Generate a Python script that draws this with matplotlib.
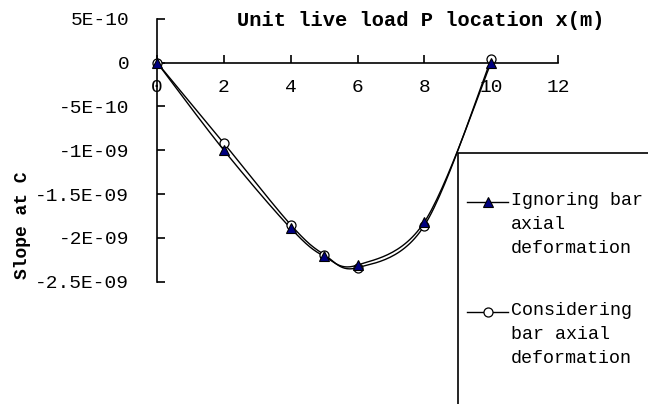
import numpy as np
import matplotlib
matplotlib.use("Agg")
import matplotlib.pyplot as plt
from matplotlib.lines import Line2D
from matplotlib.patches import Rectangle

# load position x (m) and slope at C for the two models
x_pos = [0, 2, 4, 5, 6, 8, 10]
slope_ignoring = [0, -1.00e-9, -1.89e-9, -2.21e-9, -2.31e-9, -1.82e-9, 0]
slope_considering = [0, -0.92e-9, -1.85e-9, -2.19e-9, -2.34e-9, -1.86e-9, 0.04e-9]

x_ticks = [0, 2, 4, 6, 8, 10, 12]
y_ticks = [5e-10, 0, -5e-10, -1e-9, -1.5e-9, -2e-9, -2.5e-9]
y_tick_labels = ["5E-10", "0", "-5E-10", "-1E-09", "-1.5E-09", "-2E-09", "-2.5E-09"]

legend_labels = ["Ignoring bar\naxial\ndeformation",
                 "Considering\nbar axial\ndeformation"]

MONO = "Liberation Mono"


def smooth(xs, ys, n=30):
    # cubic bezier through the points, excel-style smoothed line
    xs = np.asarray(xs, float)
    ys = np.asarray(ys, float)
    px = np.concatenate([[xs[0]], xs, [xs[-1]]])
    py = np.concatenate([[ys[0]], ys, [ys[-1]]])
    out_x, out_y = [], []
    t = np.linspace(0, 1, n)
    for i in range(1, len(px) - 2):
        p0 = np.array([px[i], py[i]])
        p3 = np.array([px[i + 1], py[i + 1]])
        c1 = p0 + (np.array([px[i + 1], py[i + 1]]) - np.array([px[i - 1], py[i - 1]])) / 6
        c2 = p3 - (np.array([px[i + 2], py[i + 2]]) - np.array([px[i], py[i]])) / 6
        b = ((1 - t) ** 3)[:, None] * p0 + (3 * (1 - t) ** 2 * t)[:, None] * c1 \
            + (3 * (1 - t) * t ** 2)[:, None] * c2 + (t ** 3)[:, None] * p3
        out_x.extend(b[:, 0])
        out_y.extend(b[:, 1])
    return out_x, out_y


W, H = 648, 404
fig = plt.figure(figsize=(W / 100, H / 100), dpi=100)
ax = fig.add_axes([157 / W, 1 - 281.7 / H, (558 - 157) / W, (281.7 - 18.7) / H])

tri = dict(marker="^", ms=7.5, mfc="#000080", mec="black", mew=0.8)
circ = dict(marker="o", ms=6.5, mfc="white", mec="black", mew=0.9)

sx, sy = smooth(x_pos, slope_considering)
ax.plot(sx, sy, color="black", lw=1.0, clip_on=False)
ax.plot(x_pos, slope_considering, ls="none", clip_on=False, zorder=3, **circ)

sx, sy = smooth(x_pos, slope_ignoring)
ax.plot(sx, sy, color="black", lw=1.0, clip_on=False)
ax.plot(x_pos, slope_ignoring, ls="none", clip_on=False, zorder=4, **tri)

ax.set_xlim(0, 12)
ax.set_ylim(-2.5e-9, 5e-10)
ax.spines["top"].set_visible(False)
ax.spines["right"].set_visible(False)
ax.spines["bottom"].set_position(("data", 0))
ax.spines["left"].set_linewidth(1.2)
ax.spines["bottom"].set_linewidth(1.2)

ax.set_xticks(x_ticks)
ax.set_xticklabels([str(v) for v in x_ticks])
ax.set_yticks(y_ticks)
ax.set_yticklabels(y_tick_labels)
ax.tick_params(axis="x", direction="in", length=6, width=1.2, pad=12,
               labelsize=14)
ax.tick_params(axis="y", direction="in", length=6, width=1.2, pad=20,
               labelsize=14)
for lab in ax.get_xticklabels() + ax.get_yticklabels():
    lab.set_family(MONO)

fig.text(421 / W, 1 - 20 / H, "Unit live load P location x(m)", ha="center",
         va="center", family=MONO, weight="bold", fontsize=14.7)
fig.text(23 / W, 1 - 225 / H, "Slope at C", ha="center", va="center",
         rotation=90, family=MONO, weight="bold", fontsize=13)

# legend box runs off the right and bottom edge
fig.add_artist(Rectangle((458 / W, -0.1), 0.5, 1 - 153 / H + 0.1,
                         transform=fig.transFigure, fill=False,
                         edgecolor="black", lw=1.2))

first_line_y = [202, 312]
for label, st, yy in zip(legend_labels, [tri, circ], first_line_y):
    yf = 1 - yy / H
    fig.add_artist(Line2D([467 / W, 508 / W], [yf, yf], color="black", lw=1.0,
                          transform=fig.transFigure))
    fig.add_artist(Line2D([488 / W], [yf], ls="none",
                          transform=fig.transFigure, **st))
    fig.text(511 / W, yf + 10 / H, label, ha="left", va="top", family=MONO,
             fontsize=13.2, linespacing=1.55)

fig.savefig("out.png", dpi=100)
